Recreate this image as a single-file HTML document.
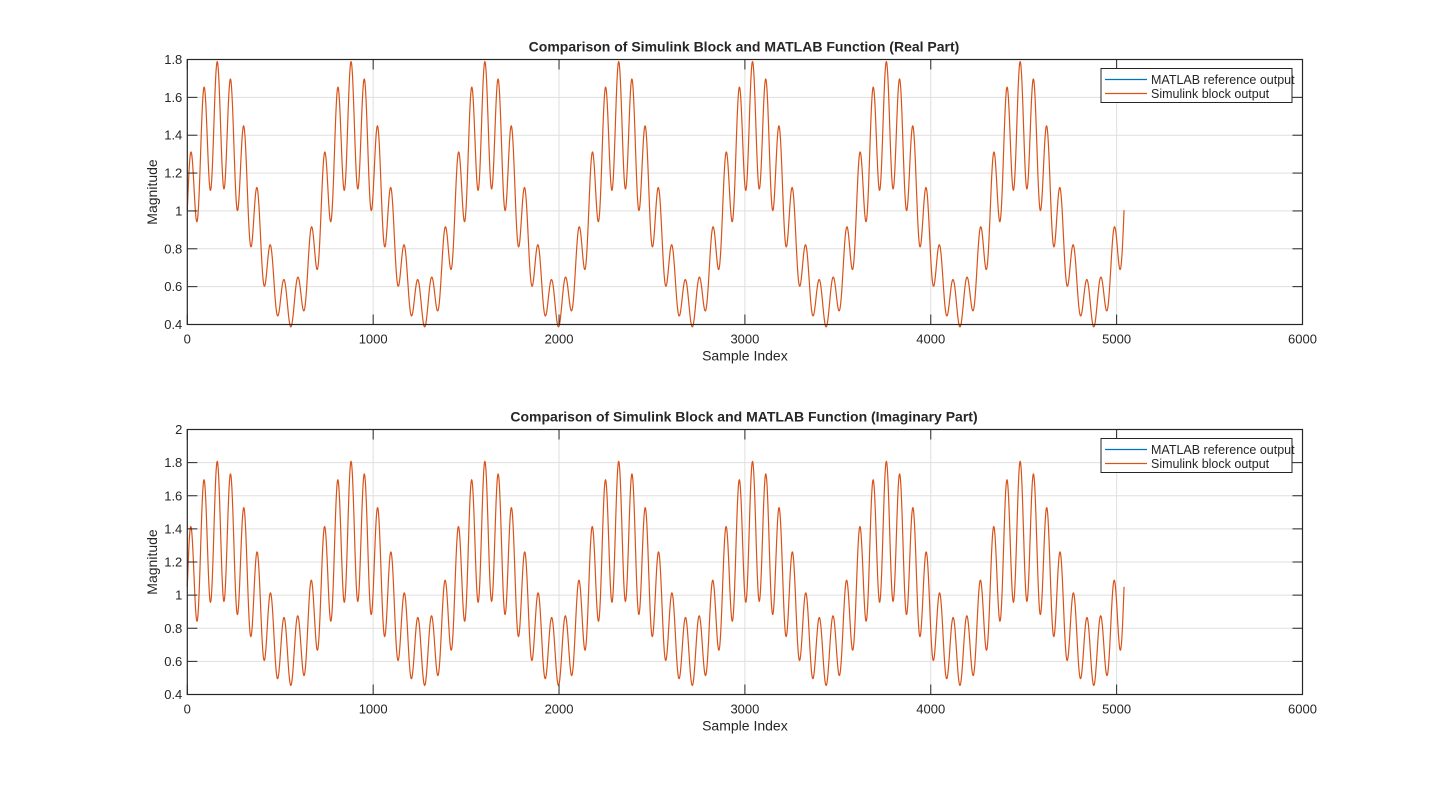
<!DOCTYPE html>
<html><head><meta charset="utf-8"><style>
html,body{margin:0;padding:0;background:#fff;}
svg text{font-family:"Liberation Sans",Arial,sans-serif;fill:#262626;}
</style></head><body>
<svg id="s" width="1440" height="781" xmlns="http://www.w3.org/2000/svg"></svg>
<script>
const S=document.getElementById('s');
let h='';
function slow(n){
  let u=((n-161)%720+720)%720;
  if(u<396) return Math.cos(Math.PI*u/396);
  return Math.cos(Math.PI+Math.PI*(u-396)/324);
}
function ax(top,bot,ymin,ymax,title,mC,aC,fr){
  const L=187.3,R=1302.5;
  const X=v=>L+(R-L)*v/6000, Y=v=>bot-(bot-top)*(v-ymin)/(ymax-ymin);
  for(let v=1000;v<6000;v+=1000) h+=`<line x1="${X(v)}" x2="${X(v)}" y1="${top}" y2="${bot}" stroke="#dfdfdf" stroke-width="1"/>`;
  for(let v=ymin+0.2;v<ymax-1e-6;v+=0.2) h+=`<line x1="${L}" x2="${R}" y1="${Y(v)}" y2="${Y(v)}" stroke="#dfdfdf" stroke-width="1"/>`;
  let d='';
  for(let n=0;n<=5040;n++){
    const M=mC+aC*slow(n);
    let y=M*(1+fr*Math.cos(2*Math.PI*(n-161)/72));
    d+=(n?'L':'M')+X(n).toFixed(2)+' '+Y(y).toFixed(2);
  }
  h+=`<path d="${d}" fill="none" stroke="#D95319" stroke-width="1.2"/>`;
  for(let v=0;v<=6000;v+=1000){
    h+=`<line x1="${X(v)}" x2="${X(v)}" y1="${bot}" y2="${bot-10}" stroke="#262626"/><line x1="${X(v)}" x2="${X(v)}" y1="${top}" y2="${top+10}" stroke="#262626"/>`;
    h+=`<text x="${X(v)}" y="${bot+19}" font-size="13" text-anchor="middle">${v}</text>`;
  }
  for(let v=ymin;v<=ymax+1e-6;v+=0.2){
    const yy=Y(v);
    h+=`<line x1="${L}" x2="${L+10}" y1="${yy}" y2="${yy}" stroke="#262626"/><line x1="${R}" x2="${R-10}" y1="${yy}" y2="${yy}" stroke="#262626"/>`;
    let lab=(Math.round(v*10)/10).toString();
    h+=`<text x="${L-5}" y="${yy+4.5}" font-size="13" text-anchor="end">${lab}</text>`;
  }
  h+=`<rect x="${L}" y="${top}" width="${R-L}" height="${bot-top}" fill="none" stroke="#262626" stroke-width="1.2"/>`;
  h+=`<text x="744" y="${top-8}" font-size="14" font-weight="bold" text-anchor="middle" fill="#000">${title}</text>`;
  h+=`<text x="${(L+R)/2}" y="${bot+36}" font-size="14" text-anchor="middle">Sample Index</text>`;
  h+=`<text transform="translate(157,${(top+bot)/2}) rotate(-90)" font-size="14" text-anchor="middle">Magnitude</text>`;
  const lx=1101,ly=top+9;
  h+=`<rect x="${lx}" y="${ly}" width="191" height="34" fill="#fff" stroke="#262626" stroke-width="1"/>`;
  h+=`<line x1="${lx+4}" x2="${lx+46}" y1="${ly+11}" y2="${ly+11}" stroke="#0072BD" stroke-width="1.2"/><text x="${lx+50}" y="${ly+15.5}" font-size="12.5">MATLAB reference output</text>`;
  h+=`<line x1="${lx+4}" x2="${lx+46}" y1="${ly+25}" y2="${ly+25}" stroke="#D95319" stroke-width="1.2"/><text x="${lx+50}" y="${ly+29.5}" font-size="12.5">Simulink block output</text>`;
}
ax(59.5,324.5,0.4,1.8,'Comparison of Simulink Block and MATLAB Function (Real Part)',0.98,0.48,0.225);
ax(429.5,694.5,0.4,2.0,'Comparison of Simulink Block and MATLAB Function (Imaginary Part)',1.02,0.37,0.3);
S.innerHTML=h;
</script>
</body></html>
